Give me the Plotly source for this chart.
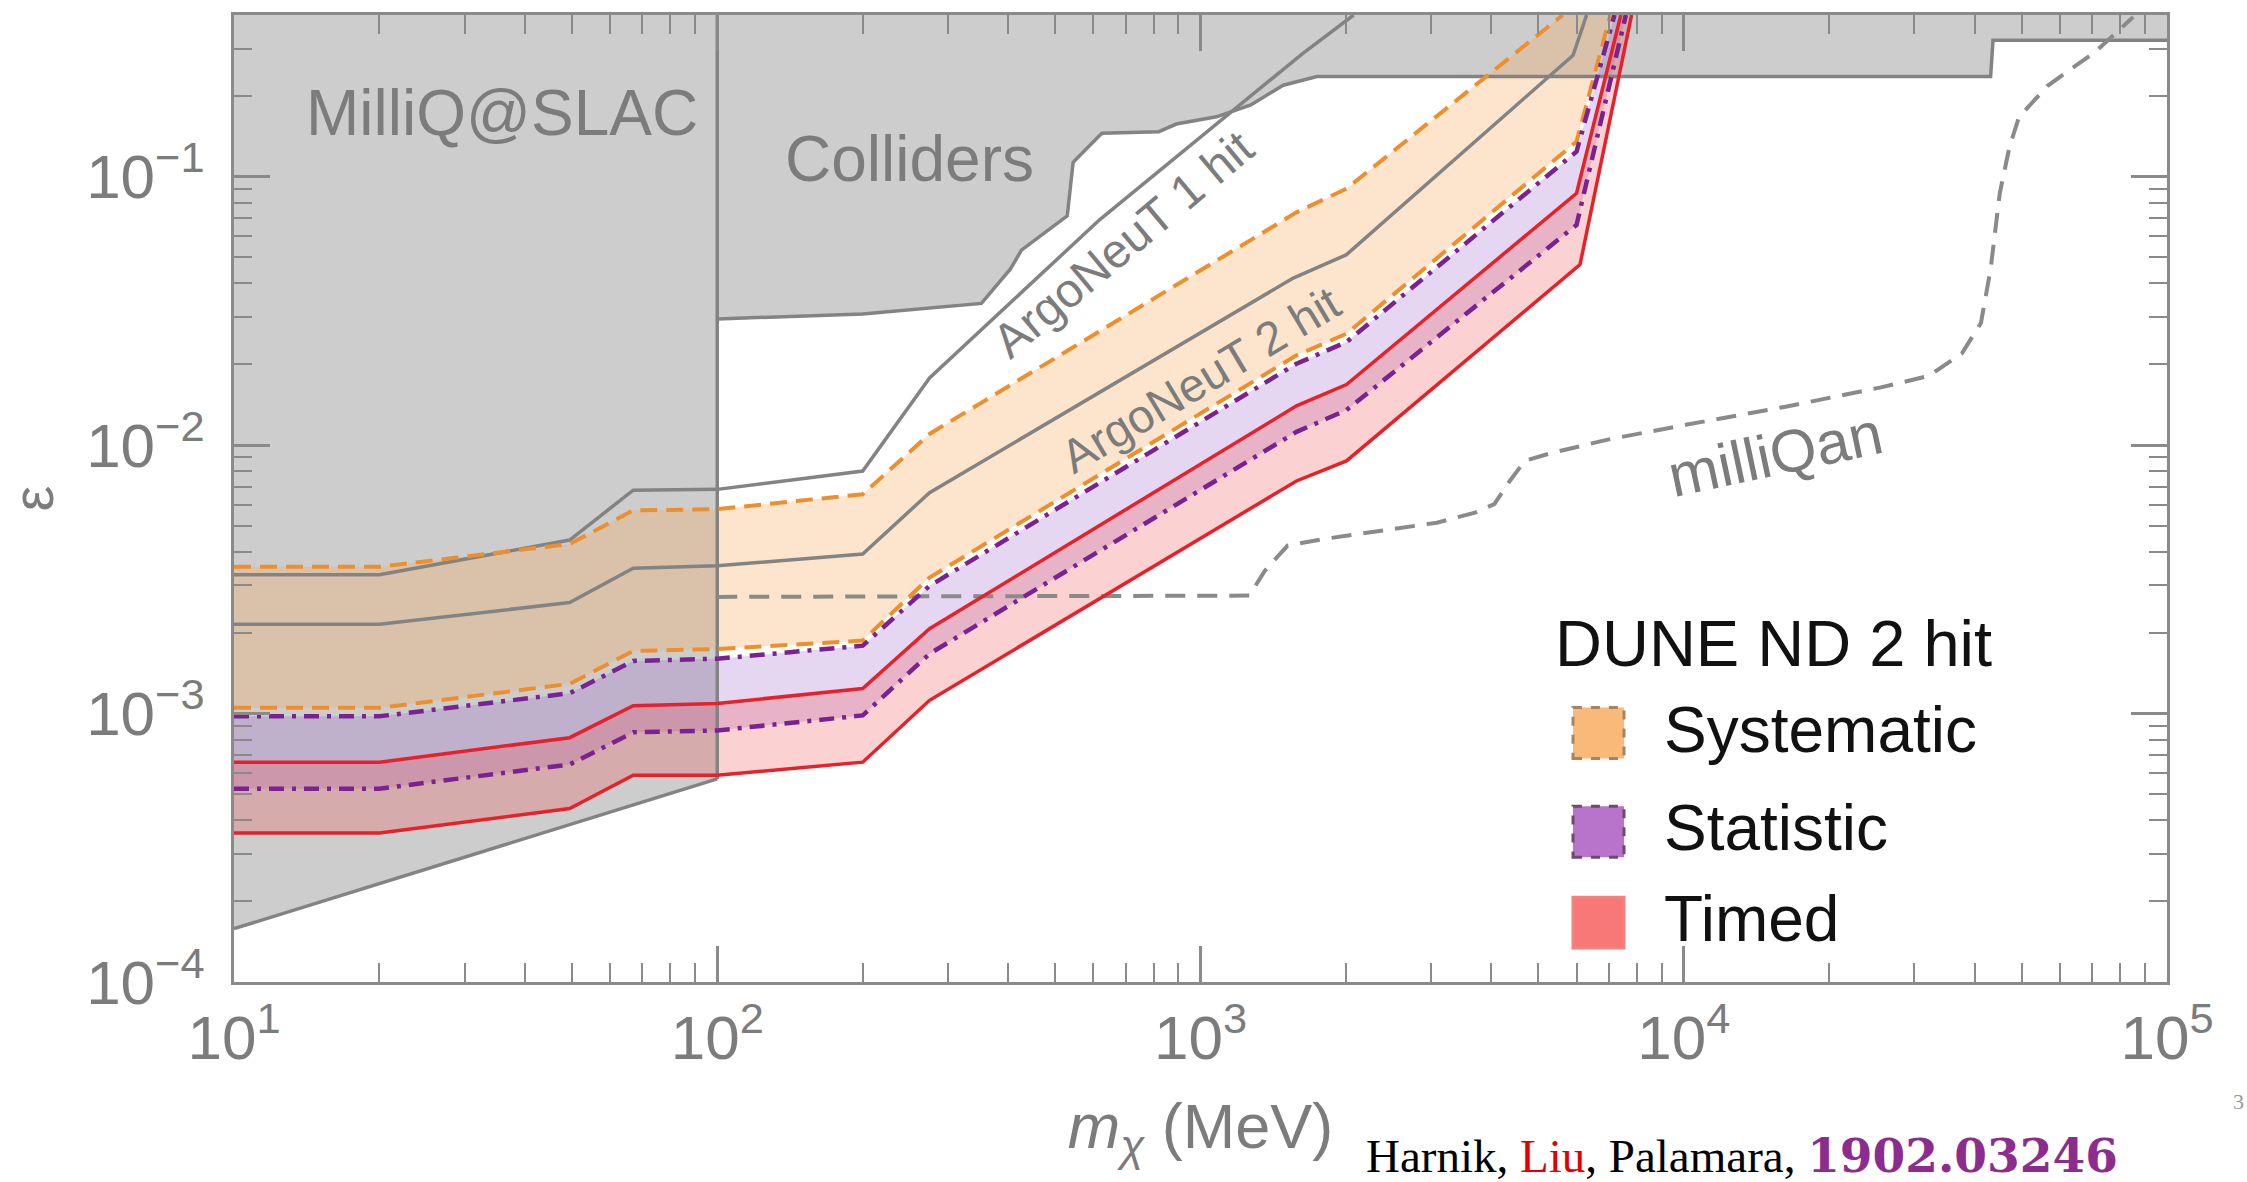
import numpy as np
import plotly.graph_objects as go

# ---------------- data ----------------
Y_TOP = 0.4          # top of the epsilon axis
X_RANGE_LOG = [1, 5]
Y_RANGE_LOG = [-4, np.log10(Y_TOP)]

# MilliQ@SLAC excluded region: lower boundary (region extends to the top)
milliq_x = [10, 100]
milliq_y = [1.58e-4, 5.71e-4]

# Colliders excluded region: lower boundary (region extends to the top)
coll_x = [100, 200, 352, 404, 426, 530, 545, 625, 820, 891, 1079, 1271, 1483, 1742, 43150, 43650, 1e5]
coll_y = [2.95e-2, 3.08e-2, 3.37e-2, 4.52e-2, 5.32e-2, 7.14e-2, 0.113, 0.145, 0.147, 0.157, 0.167,
          0.185, 0.219, 0.236, 0.236, 0.322, 0.322]

# ArgoNeuT curves
argo1_x = [10, 20, 49.5, 67, 100, 200, 275, 619, 1629, 2075]
argo1_y = [3.29e-3, 3.29e-3, 4.43e-3, 6.79e-3, 6.84e-3, 8.00e-3, 1.78e-2, 6.92e-2, 0.288, 0.4]
argo2_x = [10, 20, 49.5, 67, 100, 200, 275, 1556, 2005, 5715, 5902, 6295]
argo2_y = [2.15e-3, 2.15e-3, 2.59e-3, 3.48e-3, 3.55e-3, 3.93e-3, 6.65e-3, 4.19e-2, 5.12e-2, 0.268, 0.283, 0.4]

# milliQan projection
milliqan_x = [100, 1262, 1358, 1514, 1786, 2344, 3083, 3698, 4055, 4365, 4688, 5333, 6998, 10093,
              13274, 16255, 25586, 32137, 37670, 41210, 43152, 45082, 47206, 49431, 56624, 71121, 85114]
milliqan_y = [2.72e-3, 2.75e-3, 3.40e-3, 4.22e-3, 4.46e-3, 4.79e-3, 5.14e-3, 5.60e-3, 6.03e-3, 7.35e-3,
              8.73e-3, 9.35e-3, 1.05e-2, 1.19e-2, 1.30e-2, 1.39e-2, 1.64e-2, 1.81e-2, 2.20e-2, 2.85e-2,
              4.52e-2, 8.69e-2, 0.129, 0.167, 0.218, 0.292, 0.393]

# DUNE ND 2 hit bands
syst_up_x = [10, 20, 49.5, 67, 100, 200, 275, 1580, 2005, 5620]
syst_up_y = [3.52e-3, 3.52e-3, 4.28e-3, 5.71e-3, 5.77e-3, 6.56e-3, 1.10e-2, 7.36e-2, 9.02e-2, 0.4]
syst_lo_x = [10, 20, 49.5, 67, 100, 200, 275, 1580, 2005, 6000, 7050]
syst_lo_y = [1.05e-3, 1.05e-3, 1.29e-3, 1.71e-3, 1.74e-3, 1.87e-3, 3.21e-3, 2.16e-2, 2.60e-2, 0.135, 0.4]

stat_up_x = [10, 20, 49.5, 67, 100, 200, 275, 1580, 2005, 6000, 7190]
stat_up_y = [9.77e-4, 9.77e-4, 1.19e-3, 1.57e-3, 1.60e-3, 1.79e-3, 2.99e-3, 2.01e-2, 2.42e-2, 0.124, 0.4]
stat_lo_x = [10, 20, 49.5, 67, 100, 200, 275, 1580, 2005, 6000, 7590]
stat_lo_y = [5.25e-4, 5.25e-4, 6.46e-4, 8.51e-4, 8.65e-4, 9.84e-4, 1.67e-3, 1.12e-2, 1.35e-2, 6.61e-2, 0.4]

timed_up_x = [10, 20, 49.5, 67, 100, 200, 275, 1580, 2005, 6000, 7410]
timed_up_y = [6.59e-4, 6.59e-4, 8.13e-4, 1.07e-3, 1.09e-3, 1.24e-3, 2.07e-3, 1.40e-2, 1.68e-2, 8.67e-2, 0.4]
timed_lo_x = [10, 20, 49.5, 67, 100, 200, 275, 1580, 2005, 6100, 7800]
timed_lo_y = [3.59e-4, 3.59e-4, 4.43e-4, 5.89e-4, 5.89e-4, 6.59e-4, 1.12e-3, 7.35e-3, 8.73e-3, 4.70e-2, 0.4]

# ticks
x_tick_vals = [1e1, 1e2, 1e3, 1e4, 1e5]
x_tick_text = ['10<sup>1</sup>', '10<sup>2</sup>', '10<sup>3</sup>', '10<sup>4</sup>', '10<sup>5</sup>']
y_tick_vals = [1e-4, 1e-3, 1e-2, 1e-1]
y_tick_text = ['10<sup>\u22124</sup>', '10<sup>\u22123</sup>', '10<sup>\u22122</sup>', '10<sup>\u22121</sup>']

legend_labels = ['Systematic', 'Statistic', 'Timed']

# ---------------- styles ----------------
FONT = 'Liberation Sans, Arial, Helvetica, sans-serif'
GRAY_FILL = '#cdcdcd'
GRAY_LINE = '#838383'
AXIS_GRAY = '#8a8a8a'
TXT_GRAY = '#7c7c7c'
ORANGE = '#EE8F2E'
PURPLE = '#7A2290'
RED = '#E5222A'
SYST_FILL = 'rgba(250,170,90,0.30)'
STAT_FILL = 'rgba(150,90,205,0.25)'
TIMED_FILL = 'rgba(245,70,70,0.25)'

fig = go.Figure()


def add_fill(xs, ys, color):
    fig.add_trace(go.Scatter(x=xs, y=ys, mode='none', fill='toself', fillcolor=color,
                             hoverinfo='skip', showlegend=False))


def add_line(xs, ys, color, width, dash='solid'):
    fig.add_trace(go.Scatter(x=xs, y=ys, mode='lines',
                             line=dict(color=color, width=width, dash=dash),
                             hoverinfo='skip', showlegend=False))


# excluded regions
add_fill(milliq_x + milliq_x[::-1], milliq_y + [Y_TOP, Y_TOP], GRAY_FILL)
add_fill(coll_x + [coll_x[-1], coll_x[0]], coll_y + [Y_TOP, Y_TOP], GRAY_FILL)

# DUNE bands
add_fill(syst_up_x + syst_lo_x[::-1], syst_up_y + syst_lo_y[::-1], SYST_FILL)
add_fill(stat_up_x + stat_lo_x[::-1], stat_up_y + stat_lo_y[::-1], STAT_FILL)
add_fill(timed_up_x + timed_lo_x[::-1], timed_up_y + timed_lo_y[::-1], TIMED_FILL)

# region boundaries
add_line(milliq_x, milliq_y, GRAY_LINE, 3.5)
add_line([milliq_x[-1], milliq_x[-1]], [milliq_y[-1], Y_TOP], GRAY_LINE, 3.5)
add_line(coll_x, coll_y, GRAY_LINE, 3.5)

# ArgoNeuT
add_line(argo1_x, argo1_y, GRAY_LINE, 3.5)
add_line(argo2_x, argo2_y, GRAY_LINE, 3.5)

# milliQan
add_line(milliqan_x, milliqan_y, '#8a8a8a', 4, '20px,12px')

# DUNE band edges
add_line(syst_up_x, syst_up_y, ORANGE, 4, '17px,9px')
add_line(syst_lo_x, syst_lo_y, ORANGE, 4, '17px,9px')
add_line(stat_up_x, stat_up_y, PURPLE, 4.5, '15px,8px,4px,8px')
add_line(stat_lo_x, stat_lo_y, PURPLE, 4.5, '15px,8px,4px,8px')
add_line(timed_up_x, timed_up_y, RED, 3.5)
add_line(timed_lo_x, timed_lo_y, RED, 3.5)

# ---------------- axes ----------------
x_minor = [m * 10 ** k for k in range(1, 5) for m in range(2, 10)]
y_minor = [m * 10.0 ** k for k in range(-4, 0) for m in range(2, 10) if m * 10.0 ** k < Y_TOP]

axis_common = dict(showline=True, linecolor=AXIS_GRAY, linewidth=3, mirror='allticks',
                   ticks='inside', ticklen=36, tickwidth=2.5, tickcolor=AXIS_GRAY,
                   showgrid=False, zeroline=False, tickmode='array',
                   tickfont=dict(family=FONT, size=62, color=TXT_GRAY))

fig.update_xaxes(type='log', range=X_RANGE_LOG, tickvals=x_tick_vals, ticktext=x_tick_text,
                 ticklabelstandoff=0,
                 minor=dict(tickmode='array', tickvals=x_minor, ticks='inside', ticklen=19,
                            tickwidth=2, tickcolor=AXIS_GRAY, showgrid=False),
                 title=dict(text='<i>m</i><sub><i>\u03c7</i></sub> (MeV)', standoff=33,
                            font=dict(family=FONT, size=63, color=TXT_GRAY)),
                 **axis_common)
fig.update_yaxes(type='log', range=Y_RANGE_LOG, tickvals=y_tick_vals, ticktext=y_tick_text,
                 ticklabelstandoff=14,
                 minor=dict(tickmode='array', tickvals=y_minor, ticks='inside', ticklen=18,
                            tickwidth=2, tickcolor=AXIS_GRAY, showgrid=False),
                 title=dict(text='\u03b5', standoff=30,
                            font=dict(family=FONT, size=58, color=TXT_GRAY)),
                 **axis_common)

# ---------------- text labels ----------------
def label(text, lx, ly, size, angle=0, color=TXT_GRAY):
    fig.add_annotation(x=lx, y=ly, xref='x', yref='y', text=text, showarrow=False,
                       textangle=angle, xanchor='center', yanchor='middle',
                       font=dict(family=FONT, size=size, color=color))


label('MilliQ@SLAC', np.log10(35.9), np.log10(0.172), 64)
label('Colliders', np.log10(250), np.log10(0.116), 64)
label('ArgoNeuT 1 hit', np.log10(690), np.log10(0.056), 48, angle=-40)
label('ArgoNeuT 2 hit', np.log10(1000), np.log10(0.0175), 47, angle=-31)
label('milliQan', np.log10(15500), np.log10(0.0092), 60, angle=-12)

# legend (drawn manually to mimic the reference)
def px_to_paper_x(px):
    return (px - 234) / 1933


def px_to_paper_y(py):
    return (982 - py) / 969


fig.add_annotation(x=px_to_paper_x(1553), y=px_to_paper_y(643), xref='paper', yref='paper',
                   text='DUNE ND 2 hit', showarrow=False, xanchor='left', yanchor='middle',
                   font=dict(family=FONT, size=65, color='#111111'))

swatches = [
    dict(fill='#F9B978', line='#A8835F', dash='dash', top=707),
    dict(fill='#B873CB', line='#6E4A70', dash='dash', top=806),
    dict(fill='#F87878', line='#F48080', dash='solid', top=897),
]
for lab, sw in zip(legend_labels, swatches):
    fig.add_shape(type='rect', xref='paper', yref='paper',
                  x0=px_to_paper_x(1573), x1=px_to_paper_x(1624),
                  y0=px_to_paper_y(sw['top'] + 51), y1=px_to_paper_y(sw['top']),
                  fillcolor=sw['fill'], line=dict(color=sw['line'], width=3, dash=sw['dash']))
    fig.add_annotation(x=px_to_paper_x(1662), y=px_to_paper_y(sw['top'] + 22), xref='paper',
                       yref='paper', text=lab, showarrow=False, xanchor='left', yanchor='middle',
                       font=dict(family=FONT, size=64, color='#111111'))

# citation footer
fig.add_annotation(
    x=px_to_paper_x(1364), y=px_to_paper_y(1156), xref='paper', yref='paper', showarrow=False,
    xanchor='left', yanchor='middle',
    text=('Harnik, <span style="color:#E00000">Liu</span>, Palamara, '
          '<b><span style="color:#8B2C8E;font-family:DejaVu Serif">1902.03246</span></b>'),
    font=dict(family='Liberation Serif, Times New Roman, serif', size=47, color='#000000'))
fig.add_annotation(x=px_to_paper_x(2246), y=px_to_paper_y(1102), xref='paper', yref='paper',
                   showarrow=False, xanchor='right', yanchor='middle', text='3',
                   font=dict(family='Liberation Serif, serif', size=22, color='#9a9a9a'))

fig.update_layout(width=2247, height=1182, autosize=False,
                  margin=dict(l=234, r=80, t=13, b=200, pad=0),
                  paper_bgcolor='white', plot_bgcolor='white', showlegend=False,
                  font=dict(family=FONT, color=TXT_GRAY))

fig.write_html("out.html", config={'displayModeBar': False},
               post_script="document.body.style.margin='0';")
